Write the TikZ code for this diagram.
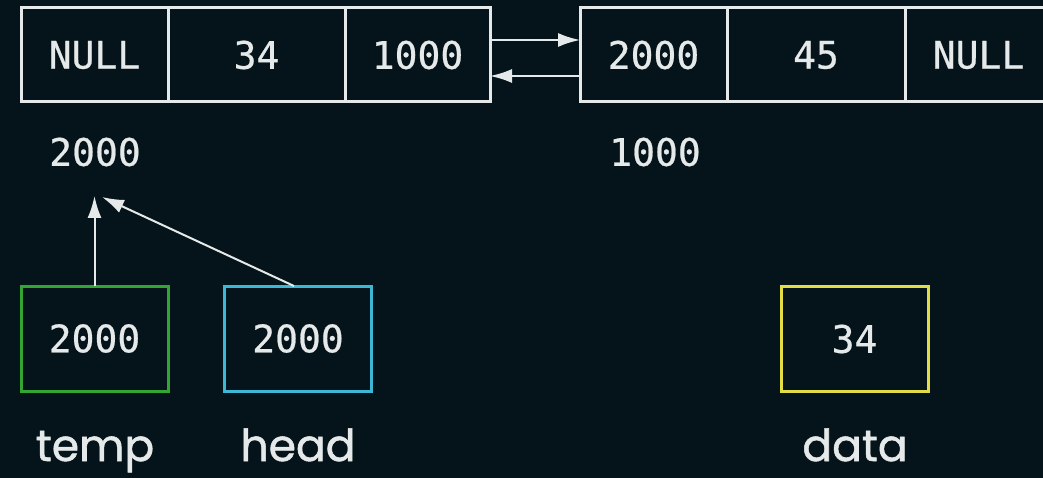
\documentclass[tikz,border=0pt]{standalone}
\usepackage{fontspec}
\setmonofont[FakeBold=0.6]{DejaVu Sans Mono}
\newfontfamily\labfont[FakeBold=1.2]{Poppins}
\usetikzlibrary{arrows.meta}
\definecolor{bg}{HTML}{04141A}
\definecolor{ln}{HTML}{E6E9E9}
\definecolor{gr}{HTML}{33A532}
\definecolor{cy}{HTML}{3DB7D6}
\definecolor{yl}{HTML}{E2DC45}
\begin{document}
\begin{tikzpicture}[x=1pt,y=-1pt,
  cell/.style={draw=ln,line width=3pt,inner sep=0pt,outer sep=0pt,minimum height=94pt,text=ln,font=\ttfamily\fontsize{38}{40}\selectfont},
  var/.style={line width=3pt,inner sep=0pt,outer sep=0pt,minimum height=105pt,minimum width=147pt,text=ln,font=\ttfamily\fontsize{38}{40}\selectfont},
  addr/.style={text=ln,font=\ttfamily\fontsize{38}{40}\selectfont,inner sep=0pt},
  lab/.style={text=ln,font=\labfont\fontsize{44}{46}\selectfont,inner sep=0pt,anchor=base},
  arr/.style={draw=ln,line width=2pt,-{Latex[length=22pt,width=14pt]}}]
\fill[bg] (0,0) rectangle (1043,478);
\useasboundingbox (0,0) rectangle (1043,478);
\begin{scope}
\clip (0,0) rectangle (1043,478);
\node[cell,minimum width=147pt] (a) at (94.5,55) {NULL};
\node[cell,minimum width=177pt] (b) at (256.5,55) {34};
\node[cell,minimum width=145pt] (c) at (417.5,55) {1000};
\node[cell,minimum width=147pt] (d) at (653.5,55) {2000};
\node[cell,minimum width=178pt] (e) at (816,55) {45};
\node[cell,minimum width=147pt] (f) at (978.5,55) {NULL};
\end{scope}
\node[lab] (tl) at (95,461) {temp};
\node[lab] (hl) at (298,461) {head};
\node[lab] (dl) at (855,461) {data};
\draw[arr] ([yshift=15pt]c.east) -- ([yshift=15pt]d.west);
\draw[arr] ([yshift=-21pt]d.west) -- ([yshift=-21pt]c.east);
\node[addr] (l1) at (95,152) {2000};
\node[addr] (l2) at (655,152) {1000};
\node[var,draw=gr] (temp) at (94.5,338.5) {2000};
\node[var,draw=cy] (head) at (298,338.5) {2000};
\node[var,draw=yl] (data) at (854.5,339) {34};
\coordinate (tipA) at (94.5,196);
\coordinate (tipB) at (102,197);
\draw[arr] (temp.north) -- (tipA);
\draw[arr] ([xshift=-4pt]head.north) -- (tipB);
\end{tikzpicture}
\end{document}
